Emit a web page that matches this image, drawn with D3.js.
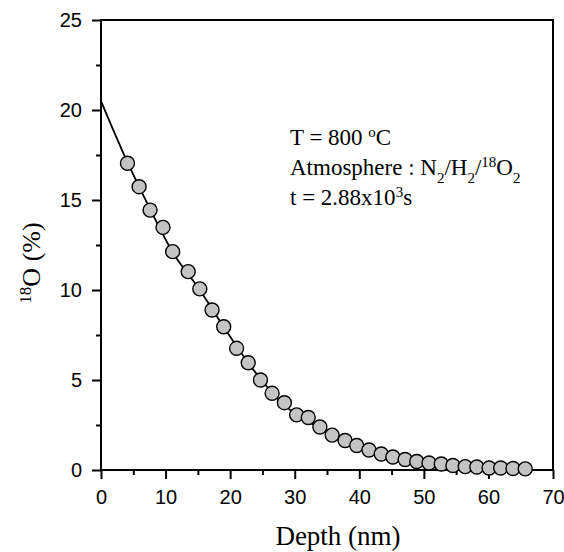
<!DOCTYPE html>
<html>
<head>
<meta charset="utf-8">
<script src="https://cdn.jsdelivr.net/npm/d3@7"></script>
<style>
  body { margin: 0; background: #fff; }
  svg { display: block; }
</style>
</head>
<body>
<svg id="chart" width="564" height="552"></svg>
<script>
// measured points (depth in nm, 18O in %)
const depth = [4.1, 5.9, 7.6, 9.6, 11.1, 13.5, 15.3, 17.2, 19.0, 21.0, 22.8, 24.7, 26.5, 28.4,
  30.3, 32.1, 33.9, 35.8, 37.8, 39.6, 41.5, 43.4, 45.2, 47.1, 48.9, 50.8, 52.7, 54.5, 56.4,
  58.2, 60.1, 61.9, 63.8, 65.7];
const o18 = [17.04, 15.74, 14.44, 13.48, 12.13, 11.02, 10.06, 8.89, 7.96, 6.76, 5.96, 5.0, 4.26, 3.74,
  3.06, 2.92, 2.39, 1.94, 1.64, 1.36, 1.11, 0.89, 0.72, 0.58, 0.47, 0.39, 0.33, 0.25, 0.19,
  0.17, 0.11, 0.11, 0.08, 0.06];

// fitted profile line
const fitDepth = [0, 4.1, 7.6, 11.1, 15.3, 19.0, 22.8, 26.5, 30.3, 33.9, 37.8, 41.5, 45.2, 48.9, 52.7, 56.4, 60.1, 63.8, 65.7];
const fitValue = [20.5, 17.1, 14.5, 12.1, 10.0, 7.95, 5.95, 4.3, 3.05, 2.35, 1.65, 1.1, 0.72, 0.46, 0.3, 0.2, 0.12, 0.07, 0.05];

const xTicks = [0, 10, 20, 30, 40, 50, 60, 70];
const yTicks = [0, 5, 10, 15, 20, 25];

const svg = d3.select("#chart");
const plotL = 101, plotR = 553, plotT = 20, plotB = 470;

const x = d3.scaleLinear().domain([0, 70]).range([plotL, plotR]);
const y = d3.scaleLinear().domain([0, 25]).range([plotB, plotT]);

// minor ticks
const xMinor = d3.range(5, 70, 10);
const yMinor = d3.range(2.5, 25, 5);

// frame
svg.append("rect")
  .attr("x", plotL).attr("y", plotT)
  .attr("width", plotR - plotL).attr("height", plotB - plotT)
  .attr("fill", "none").attr("stroke", "#000").attr("stroke-width", 2);

// x axis
const gx = svg.append("g").attr("transform", `translate(0,${plotB})`);
gx.call(d3.axisBottom(x).tickValues(xTicks).tickSize(9).tickPadding(11).tickFormat(d3.format("d")));
gx.append("g").call(d3.axisBottom(x).tickValues(xMinor).tickSize(5).tickFormat(""));

// y axis
const gy = svg.append("g").attr("transform", `translate(${plotL},0)`);
gy.call(d3.axisLeft(y).tickValues(yTicks).tickSize(9).tickPadding(10).tickFormat(d3.format("d")));
gy.append("g").call(d3.axisLeft(y).tickValues(yMinor).tickSize(5).tickFormat(""));

svg.selectAll(".domain").remove();
svg.selectAll(".tick line").attr("stroke", "#000").attr("stroke-width", 2);
svg.selectAll(".tick text")
  .attr("fill", "#000")
  .style("font-family", "'Liberation Sans', Arial, sans-serif")
  .style("font-size", "20px");

// fit line
const line = d3.line()
  .x((d, i) => x(fitDepth[i]))
  .y((d, i) => y(fitValue[i]))
  .curve(d3.curveMonotoneX);

svg.append("path")
  .datum(fitDepth)
  .attr("d", line)
  .attr("fill", "none")
  .attr("stroke", "#000")
  .attr("stroke-width", 1.8);

// points
svg.append("g").selectAll("circle")
  .data(depth)
  .enter().append("circle")
  .attr("cx", d => x(d))
  .attr("cy", (d, i) => y(o18[i]))
  .attr("r", 7)
  .attr("fill", "#c4c4c4")
  .attr("stroke", "#000")
  .attr("stroke-width", 1.4);

// axis titles
const serif = "'Liberation Serif', 'Times New Roman', serif";

svg.append("text")
  .attr("x", 338)
  .attr("y", 545)
  .attr("text-anchor", "middle")
  .style("font-family", serif)
  .style("font-size", "27px")
  .text("Depth (nm)");

const yTitle = svg.append("text")
  .attr("transform", `translate(40,263) rotate(-90)`)
  .attr("text-anchor", "middle")
  .style("font-family", serif)
  .style("font-size", "26px");
yTitle.append("tspan").attr("baseline-shift", "super").style("font-size", "17px").text("18");
yTitle.append("tspan").text("O (%)");

// annotation
const ann = svg.append("g")
  .style("font-family", serif)
  .style("font-size", "23px");

const t1 = ann.append("text").attr("x", 290).attr("y", 145);
t1.append("tspan").text("T = 800 ");
t1.append("tspan").attr("baseline-shift", "super").style("font-size", "15px").text("o");
t1.append("tspan").text("C");

const t2 = ann.append("text").attr("x", 290).attr("y", 175);
t2.append("tspan").text("Atmosphere : N");
t2.append("tspan").attr("baseline-shift", "sub").style("font-size", "15px").text("2");
t2.append("tspan").text("/H");
t2.append("tspan").attr("baseline-shift", "sub").style("font-size", "15px").text("2");
t2.append("tspan").text("/");
t2.append("tspan").attr("baseline-shift", "super").style("font-size", "15px").text("18");
t2.append("tspan").text("O");
t2.append("tspan").attr("baseline-shift", "sub").style("font-size", "15px").text("2");

const t3 = ann.append("text").attr("x", 290).attr("y", 205);
t3.append("tspan").text("t = 2.88x10");
t3.append("tspan").attr("baseline-shift", "super").style("font-size", "15px").text("3");
t3.append("tspan").text("s");
</script>
</body>
</html>
